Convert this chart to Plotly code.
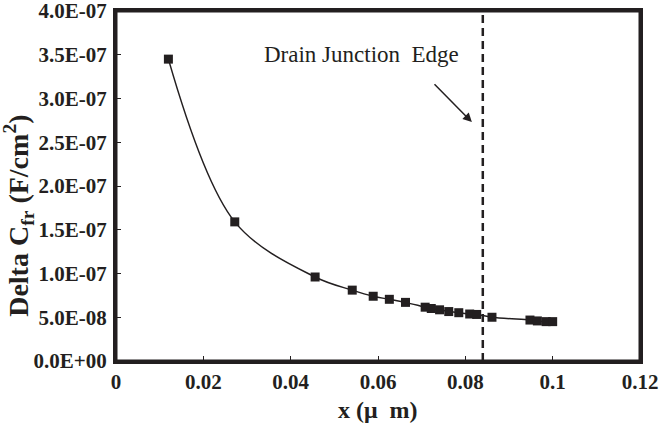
import plotly.graph_objects as go

# ---- data ----
x_um = [0.0120, 0.0272, 0.0456, 0.0541, 0.0589, 0.0626, 0.0663, 0.0708, 0.0722,
        0.0741, 0.0762, 0.0785, 0.0810, 0.0826, 0.0861, 0.0948, 0.0965, 0.0985, 0.1000]
delta_cfr = [3.45e-7, 1.59e-7, 0.96e-7, 0.81e-7, 0.74e-7, 0.705e-7, 0.67e-7, 0.615e-7, 0.60e-7,
             0.585e-7, 0.565e-7, 0.552e-7, 0.537e-7, 0.532e-7, 0.50e-7, 0.468e-7, 0.458e-7,
             0.45e-7, 0.45e-7]
junction_edge_x = 0.084

x_tickvals = [0, 0.02, 0.04, 0.06, 0.08, 0.10, 0.12]
x_ticktext = ["0", "0.02", "0.04", "0.06", "0.08", "0.1", "0.12"]
y_tickvals = [0, 0.5e-7, 1.0e-7, 1.5e-7, 2.0e-7, 2.5e-7, 3.0e-7, 3.5e-7, 4.0e-7]
y_ticktext = ["0.0E+00", "5.0E-08", "1.0E-07", "1.5E-07", "2.0E-07",
              "2.5E-07", "3.0E-07", "3.5E-07", "4.0E-07"]

INK = "#231f20"
FONT = "Liberation Serif"

fig = go.Figure()
fig.add_trace(go.Scatter(
    x=x_um, y=delta_cfr, mode="lines+markers",
    line=dict(color=INK, width=1.5, shape="spline", smoothing=1.0),
    marker=dict(symbol="square", size=9, color=INK),
    showlegend=False, hoverinfo="skip",
))

# plot frame
fig.add_shape(type="rect", xref="paper", yref="paper", x0=0, x1=1, y0=0, y1=1,
              line=dict(color=INK, width=3), layer="above")

fig.add_shape(type="line", xref="x", yref="paper", x0=junction_edge_x, x1=junction_edge_x,
              y0=0, y1=1, line=dict(color=INK, width=2.5, dash="8px,5px"))

fig.add_annotation(x=0.0563, y=3.5e-7, xref="x", yref="y", showarrow=False,
                   text="Drain Junction\u00a0 Edge",
                   font=dict(family=FONT, size=23, color=INK))
fig.add_annotation(x=0.0815, y=2.73e-7, ax=0.0726, ay=3.18e-7, xref="x", yref="y",
                   axref="x", ayref="y", text="", showarrow=True,
                   arrowhead=2, arrowsize=1.2, arrowwidth=1.5, arrowcolor=INK)

# axis titles placed as annotations
fig.add_annotation(xref="paper", yref="paper", x=-0.185, y=0.415, showarrow=False,
                   textangle=-90, xanchor="center", yanchor="middle",
                   text="<b>Delta C<sub>fr</sub> (F/cm<sup>2</sup>)</b>",
                   font=dict(family=FONT, size=28, color=INK))
fig.add_annotation(xref="paper", yref="paper", x=0.5, y=-0.14, showarrow=False,
                   xanchor="center", yanchor="middle",
                   text="<b>x (μ\u00a0 m)</b>",
                   font=dict(family=FONT, size=24, color=INK))

axis_common = dict(showline=True, linewidth=3, linecolor=INK, mirror=True,
                   ticks="inside", ticklen=5, tickwidth=1, tickcolor=INK,
                   showgrid=False, zeroline=False, automargin=False,
                   ticklabeloverflow="allow",
                   tickfont=dict(family=FONT, size=21, color=INK, weight="bold"))

fig.update_xaxes(range=[0, 0.12], tickvals=x_tickvals, ticktext=x_ticktext, **axis_common)
fig.update_yaxes(range=[0, 4e-7], tickvals=y_tickvals, ticktext=y_ticktext,
                 ticklabelstandoff=2, **axis_common)

fig.update_layout(width=660, height=425, margin=dict(l=116, r=20, t=11, b=64),
                  paper_bgcolor="white", plot_bgcolor="white")

fig.write_html("out.html", config={"displayModeBar": False},
               post_script="document.body.style.margin='0';")
